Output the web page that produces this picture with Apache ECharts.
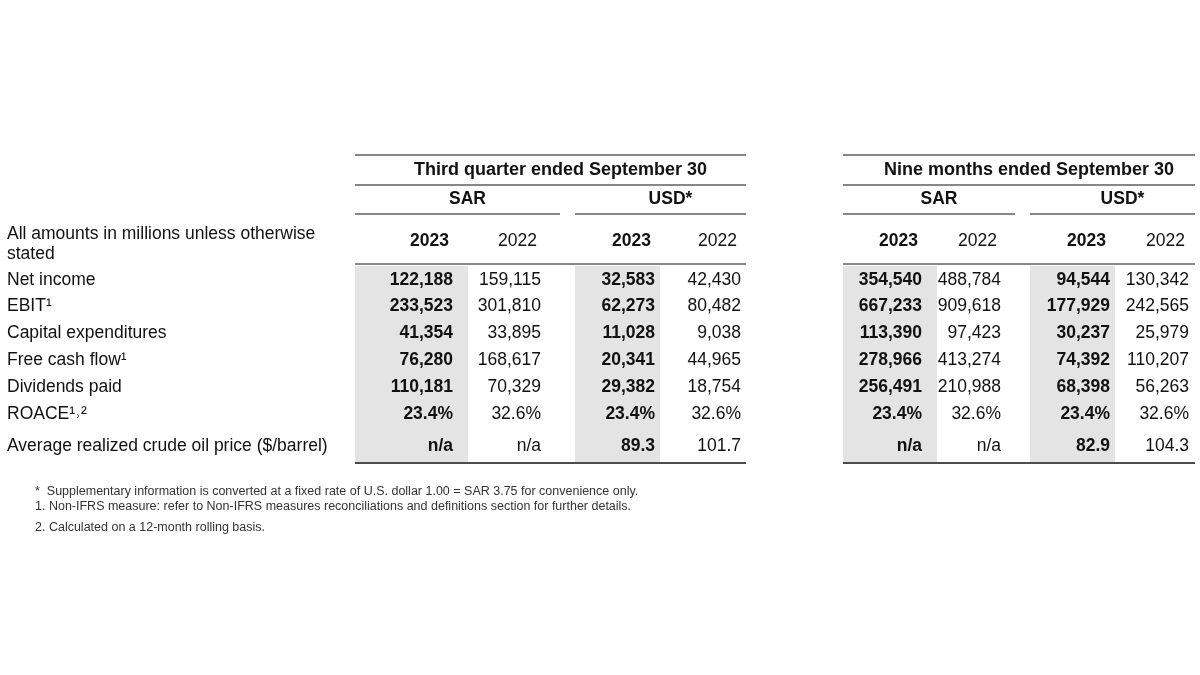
<!DOCTYPE html>
<html>
<head>
<meta charset="utf-8">
<script src="https://cdn.jsdelivr.net/npm/echarts@6/dist/echarts.min.js"></script>
<style>html,body{margin:0;background:#fff}#c{width:1200px;height:675px}</style>
</head>
<body>
<div id="c"></div>
<script>
const rowLabels = ['Net income', 'EBIT¹', 'Capital expenditures', 'Free cash flow¹', 'Dividends paid', 'ROACE¹˒²', 'Average realized crude oil price ($/barrel)'];
const q3Sar2023 = ['122,188', '233,523', '41,354', '76,280', '110,181', '23.4%', 'n/a'];
const q3Sar2022 = ['159,115', '301,810', '33,895', '168,617', '70,329', '32.6%', 'n/a'];
const q3Usd2023 = ['32,583', '62,273', '11,028', '20,341', '29,382', '23.4%', '89.3'];
const q3Usd2022 = ['42,430', '80,482', '9,038', '44,965', '18,754', '32.6%', '101.7'];
const nmSar2023 = ['354,540', '667,233', '113,390', '278,966', '256,491', '23.4%', 'n/a'];
const nmSar2022 = ['488,784', '909,618', '97,423', '413,274', '210,988', '32.6%', 'n/a'];
const nmUsd2023 = ['94,544', '177,929', '30,237', '74,392', '68,398', '23.4%', '82.9'];
const nmUsd2022 = ['130,342', '242,565', '25,979', '110,207', '56,263', '32.6%', '104.3'];
const footnotes = [
  '*  Supplementary information is converted at a fixed rate of U.S. dollar 1.00 = SAR 3.75 for convenience only.',
  '1. Non-IFRS measure: refer to Non-IFRS measures reconciliations and definitions section for further details.',
  '2. Calculated on a 12-month rolling basis.'
];

const font = 'Liberation Sans, Arial, sans-serif';
const rowY = [280, 306, 333, 360, 387, 414, 446];
// [values, right edge x, bold, shaded x-range]
const cols = [
  [q3Sar2023, 453, true, [355, 468]],
  [q3Sar2022, 541, false],
  [q3Usd2023, 655, true, [575, 660]],
  [q3Usd2022, 741, false],
  [nmSar2023, 922, true, [843, 937]],
  [nmSar2022, 1001, false],
  [nmUsd2023, 1110, true, [1030, 1115]],
  [nmUsd2022, 1189, false]
];

const g = [];
function txt(x, y, s, opt) {
  g.push({type: 'text', x, y, style: Object.assign({text: s, font: (opt && opt.bold ? 'bold ' : '') + (opt && opt.size || 17.5) + 'px ' + font,
    fill: '#111', align: 'left', verticalAlign: 'middle'}, opt && opt.style)});
}
function line(x1, x2, y, w) {
  g.push({type: 'line', shape: {x1, y1: y, x2, y2: y}, style: {stroke: '#111', lineWidth: w || 1.2}});
}
cols.forEach(c => { if (c[3]) g.push({type: 'rect', shape: {x: c[3][0], y: 266, width: c[3][1] - c[3][0], height: 196}, style: {fill: '#e4e4e4'}, z: -1}); });

// header groups
[[355, 746, 'Third quarter ended September 30', [[355, 560, 'SAR'], [575, 746, 'USD*']]],
 [843, 1195, 'Nine months ended September 30', [[843, 1015, 'SAR'], [1030, 1195, 'USD*']]]].forEach(h => {
  line(h[0], h[1], 155);
  txt((h[0] + h[1]) / 2 + 10, 170, h[2], {bold: true, size: 18, style: {align: 'center'}});
  line(h[0], h[1], 185);
  h[3].forEach(s => { txt((s[0] + s[1]) / 2 + 10, 199, s[2], {bold: true, style: {align: 'center'}}); line(s[0], s[1], 214); });
  line(h[0], h[1], 264);
  line(h[0], h[1], 463, 1.6);
});
txt(7, 234, 'All amounts in millions unless otherwise', {});
txt(7, 254, 'stated', {});
cols.forEach((c, i) => txt(c[1] - 4, 241, i % 2 === 0 ? '2023' : '2022', {bold: i % 2 === 0, style: {align: 'right'}}));

rowLabels.forEach((l, r) => txt(7, rowY[r], l, {}));
cols.forEach(c => c[0].forEach((v, r) => txt(c[1], rowY[r], v, {bold: c[2], style: {align: 'right'}})));
footnotes.forEach((f, i) => txt(35, [492, 507, 528][i], f, {size: 12.5, style: {fill: '#333'}}));

const chart = echarts.init(document.getElementById('c'), null, {renderer: 'canvas'});
chart.setOption({animation: false, graphic: g});
</script>
</body>
</html>
